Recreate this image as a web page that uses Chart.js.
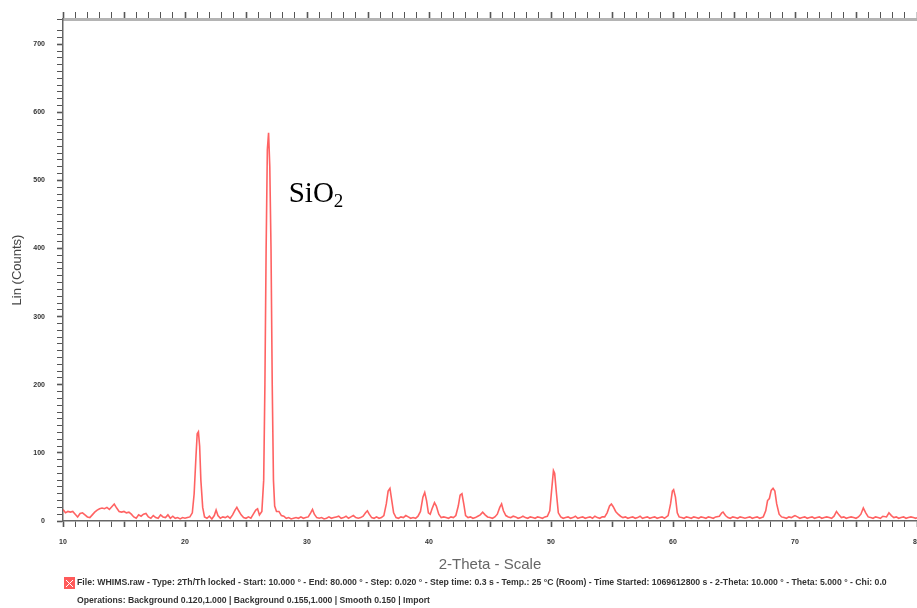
<!DOCTYPE html>
<html>
<head>
<meta charset="utf-8">
<script src="https://cdn.jsdelivr.net/npm/chart.js@4.4.1/dist/chart.umd.min.js"></script>
<style>
  html, body { margin: 0; padding: 0; background: #fff; }
  #wrap { width: 917px; height: 608px; position: relative; }
</style>
</head>
<body>
<div id="wrap"><canvas id="myChart" width="917" height="608"></canvas></div>
<script>
// diffraction pattern

const twoTheta = [
  10.0, 10.2, 10.4, 10.6, 10.8, 11.0, 11.2, 11.4, 11.6, 11.8,
  12.0, 12.2, 12.4, 12.6, 12.8, 13.0, 13.2, 13.4, 13.6, 13.8,
  14.0, 14.2, 14.4, 14.6, 14.8, 15.0, 15.2, 15.4, 15.6, 15.8,
  16.0, 16.2, 16.4, 16.6, 16.8, 17.0, 17.2, 17.4, 17.6, 17.8,
  18.0, 18.2, 18.4, 18.6, 18.8, 19.0, 19.2, 19.4, 19.6, 19.8,
  20.0, 20.2, 20.4, 20.6, 20.75, 20.9, 21.0, 21.1, 21.2, 21.3,
  21.45, 21.6, 21.8, 22.0, 22.2, 22.4, 22.55, 22.7, 22.9, 23.1,
  23.3, 23.5, 23.7, 23.9, 24.1, 24.25, 24.4, 24.6, 24.8, 25.0,
  25.2, 25.4, 25.6, 25.8, 25.95, 26.1, 26.3, 26.45, 26.55, 26.65,
  26.75, 26.85, 26.95, 27.05, 27.15, 27.25, 27.35, 27.5, 27.7, 27.9,
  28.1, 28.3, 28.5, 28.7, 28.9, 29.1, 29.3, 29.5, 29.7, 29.9,
  30.1, 30.3, 30.45, 30.6, 30.8, 31.0, 31.2, 31.4, 31.6, 31.8,
  32.0, 32.2, 32.4, 32.6, 32.8, 33.0, 33.2, 33.4, 33.6, 33.8,
  34.0, 34.2, 34.4, 34.6, 34.8, 34.95, 35.1, 35.3, 35.5, 35.7,
  35.9, 36.1, 36.3, 36.5, 36.65, 36.8, 36.95, 37.1, 37.3, 37.5,
  37.7, 37.9, 38.1, 38.3, 38.5, 38.7, 38.9, 39.1, 39.3, 39.5,
  39.65, 39.8, 39.95, 40.1, 40.25, 40.45, 40.6, 40.8, 41.0, 41.2,
  41.4, 41.6, 41.8, 42.0, 42.2, 42.4, 42.55, 42.7, 42.85, 43.0,
  43.2, 43.4, 43.6, 43.8, 44.0, 44.2, 44.4, 44.6, 44.8, 45.0,
  45.2, 45.4, 45.6, 45.8, 45.95, 46.1, 46.3, 46.5, 46.7, 46.9,
  47.1, 47.3, 47.5, 47.7, 47.9, 48.1, 48.3, 48.5, 48.7, 48.9,
  49.1, 49.3, 49.5, 49.7, 49.9, 50.05, 50.2, 50.3, 50.45, 50.6,
  50.8, 51.0, 51.2, 51.4, 51.6, 51.8, 52.0, 52.2, 52.4, 52.6,
  52.8, 53.0, 53.2, 53.4, 53.6, 53.8, 54.0, 54.2, 54.4, 54.6,
  54.8, 54.95, 55.1, 55.3, 55.5, 55.7, 55.9, 56.1, 56.3, 56.5,
  56.7, 56.9, 57.1, 57.3, 57.5, 57.7, 57.9, 58.1, 58.3, 58.5,
  58.7, 58.9, 59.1, 59.3, 59.6, 59.8, 59.95, 60.05, 60.2, 60.35,
  60.5, 60.7, 60.9, 61.1, 61.3, 61.5, 61.7, 61.9, 62.1, 62.3,
  62.5, 62.7, 62.9, 63.1, 63.3, 63.5, 63.8, 64.0, 64.1, 64.3,
  64.5, 64.7, 64.9, 65.1, 65.3, 65.5, 65.7, 65.9, 66.1, 66.3,
  66.5, 66.7, 66.9, 67.1, 67.4, 67.6, 67.75, 67.9, 68.05, 68.2,
  68.35, 68.5, 68.7, 68.9, 69.1, 69.3, 69.5, 69.7, 69.9, 70.0,
  70.2, 70.4, 70.6, 70.8, 71.0, 71.2, 71.4, 71.6, 71.8, 72.0,
  72.2, 72.4, 72.6, 72.8, 73.0, 73.2, 73.4, 73.6, 73.8, 74.0,
  74.2, 74.4, 74.6, 74.8, 75.0, 75.2, 75.4, 75.6, 75.8, 76.0,
  76.2, 76.4, 76.6, 76.8, 77.0, 77.2, 77.5, 77.7, 77.9, 78.1,
  78.3, 78.5, 78.7, 78.9, 79.1, 79.3, 79.5, 79.7, 79.9, 80.0
];

const counts = [
  17, 12, 14, 13, 14, 10, 6, 11, 12, 9,
  6, 5, 9, 13, 16, 18, 19, 18, 20, 17,
  21, 25, 19, 14, 13, 14, 12, 13, 10, 6,
  4, 9, 7, 10, 11, 6, 4, 8, 5, 4,
  9, 6, 5, 9, 4, 7, 4, 5, 3, 5,
  4, 5, 6, 12, 40, 95, 128, 131, 110, 60,
  20, 6, 4, 7, 3, 8, 16, 8, 4, 6,
  5, 7, 4, 9, 16, 20, 15, 9, 5, 4,
  6, 4, 10, 16, 18, 9, 14, 60, 200, 400,
  545, 570, 520, 400, 200, 60, 22, 14, 14, 8,
  7, 4, 5, 3, 4, 5, 4, 6, 4, 5,
  6, 12, 17, 10, 5, 4, 5, 3, 4, 6,
  4, 5, 6, 7, 4, 5, 7, 4, 6, 8,
  5, 4, 5, 7, 12, 15, 10, 5, 4, 6,
  4, 5, 8, 25, 44, 48, 30, 12, 5, 4,
  6, 5, 8, 6, 4, 5, 4, 7, 14, 35,
  42, 30, 12, 10, 18, 27, 22, 10, 5, 6,
  5, 4, 6, 5, 8, 22, 38, 40, 25, 8,
  5, 6, 4, 5, 7, 9, 13, 9, 6, 5,
  4, 6, 10, 20, 25, 15, 8, 6, 5, 7,
  6, 4, 5, 7, 5, 4, 6, 5, 4, 6,
  5, 4, 6, 7, 15, 45, 74, 70, 40, 12,
  6, 4, 5, 6, 4, 5, 7, 4, 5, 6,
  4, 5, 6, 4, 7, 5, 4, 6, 6, 12,
  22, 25, 21, 14, 10, 7, 5, 6, 4, 5,
  6, 4, 5, 7, 4, 5, 6, 4, 5, 6,
  4, 5, 6, 4, 8, 25, 44, 46, 35, 12,
  6, 5, 4, 6, 5, 4, 6, 5, 4, 6,
  5, 4, 6, 5, 4, 6, 7, 12, 13, 8,
  5, 4, 6, 5, 4, 6, 5, 4, 5, 6,
  4, 5, 6, 4, 6, 15, 30, 33, 45, 48,
  44, 25, 10, 6, 5, 4, 6, 5, 7, 8,
  6, 4, 5, 6, 4, 5, 6, 4, 5, 6,
  4, 5, 6, 5, 4, 7, 14, 9, 5, 6,
  4, 5, 6, 5, 4, 6, 10, 19, 12, 6,
  5, 4, 6, 5, 4, 7, 6, 12, 8, 5,
  6, 4, 5, 6, 4, 5, 6, 5, 4, 5
];

const xMin = 10;
const xMax = 80;
const yMin = 0;
const yMax = 737;

const yTitle = 'Lin (Counts)';
const xTitle = '2-Theta - Scale';
const peakLabel = ['SiO', '2'];
const peakLabelAt = [28.5, 469];
const footerLines = [
  'File: WHIMS.raw - Type: 2Th/Th locked - Start: 10.000 ° - End: 80.000 ° - Step: 0.020 ° - Step time: 0.3 s - Temp.: 25 °C (Room) - Time Started: 1069612800 s - 2-Theta: 10.000 ° - Theta: 5.000 ° - Chi: 0.0',
  'Operations: Background 0.120,1.000 | Background 0.155,1.000 | Smooth 0.150 | Import'
];

const points = twoTheta.map((t, i) => ({ x: t, y: counts[i] }));

// text that is not part of an axis: the peak label and the file footer
const extraText = {
  id: 'extraText',
  afterDraw(chart) {
    const ctx = chart.ctx;
    const xs = chart.scales.x;
    const ys = chart.scales.y;
    ctx.save();

    // SiO2 label near the main peak
    const px = xs.getPixelForValue(peakLabelAt[0]);
    const py = ys.getPixelForValue(peakLabelAt[1]);
    ctx.fillStyle = '#000';
    ctx.textBaseline = 'alphabetic';
    ctx.textAlign = 'left';
    ctx.font = '29px "Liberation Serif", "Times New Roman", serif';
    ctx.fillText(peakLabel[0], px, py);
    const w = ctx.measureText(peakLabel[0]).width;
    ctx.font = '19px "Liberation Serif", "Times New Roman", serif';
    ctx.fillText(peakLabel[1], px + w, py + 5);

    // little red file icon
    ctx.fillStyle = '#ff5a5a';
    ctx.fillRect(64, 577, 11, 12);
    ctx.strokeStyle = '#fff';
    ctx.lineWidth = 1;
    ctx.beginPath();
    ctx.moveTo(66, 580); ctx.lineTo(73, 587);
    ctx.moveTo(73, 580); ctx.lineTo(66, 587);
    ctx.stroke();

    // footer lines
    ctx.fillStyle = '#333';
    ctx.font = 'bold 8.7px "Liberation Sans", Arial, sans-serif';
    ctx.textBaseline = 'middle';
    ctx.fillText(footerLines[0], 77, 583, 820);
    ctx.fillText(footerLines[1], 77, 601, 353);
    ctx.restore();
  }
};

const tickFont = { family: '"Liberation Sans", Arial, sans-serif', size: 7, weight: 'bold' };

const config = {
  type: 'line',
  data: {
    datasets: [{
      label: 'WHIMS',
      data: points,
      borderColor: 'rgba(255, 70, 70, 0.85)',
      borderWidth: 1.6,
      pointRadius: 0,
      tension: 0,
      fill: false,
    }]
  },
  options: {
    responsive: false,
    animation: false,
    layout: {
      padding: { left: 0, right: 0, top: 12, bottom: 34 }
    },
    plugins: {
      legend: { display: false },
      tooltip: { enabled: false },
    },
    scales: {
      x: {
        type: 'linear',
        position: 'bottom',
        min: xMin,
        max: xMax,
        ticks: {
          stepSize: 1,
          autoSkip: false,
          maxRotation: 0,
          padding: 11,
          color: '#333',
          font: tickFont,
          callback: (v) => (v % 10 === 0 ? v : ''),
        },
        grid: {
          drawOnChartArea: false,
          drawTicks: true,
          tickLength: 6,
          tickColor: '#555',
          tickWidth: (c) => (c.tick && c.tick.value % 5 === 0 ? 1.6 : 1),
        },
        border: { display: true, color: '#666', width: 1.5 },
        title: {
          display: true,
          text: xTitle,
          color: '#666',
          font: { family: '"Liberation Sans", Arial, sans-serif', size: 15 },
          padding: { top: 0, bottom: 0 },
        },
        afterFit: (scale) => {
          scale.height = 53;
          scale.paddingRight = 0;
        },
      },
      xTop: {
        type: 'linear',
        position: 'top',
        min: xMin,
        max: xMax,
        ticks: { stepSize: 1, autoSkip: false, display: false },
        grid: {
          drawOnChartArea: false,
          drawTicks: true,
          tickLength: 7,
          tickColor: '#555',
          tickWidth: (c) => (c.tick && c.tick.value % 5 === 0 ? 1.6 : 1),
        },
        border: { display: true, color: '#b4b4b4', width: 3 },
      },
      y: {
        type: 'linear',
        position: 'left',
        min: yMin,
        max: yMax,
        ticks: {
          stepSize: 10,
          autoSkip: false,
          padding: 12,
          color: '#333',
          font: tickFont,
          callback: (v) => (v % 100 === 0 ? v : ''),
        },
        grid: {
          drawOnChartArea: false,
          drawTicks: true,
          tickLength: 6,
          tickColor: '#555',
          tickWidth: (c) => (c.tick && c.tick.value % 100 === 0 ? 1.6 : 1),
        },
        border: { display: true, color: '#666', width: 1.5 },
        title: {
          display: true,
          text: yTitle,
          color: '#444',
          font: { family: '"Liberation Sans", Arial, sans-serif', size: 13 },
          padding: { top: 10, bottom: 0 },
        },
        afterFit: (scale) => {
          scale.width = 63;
        },
      },
    }
  },
  plugins: [extraText],
};

// render the chart

var myChart = new Chart(
  document.getElementById('myChart'),
  config
);
</script>
</body>
</html>
